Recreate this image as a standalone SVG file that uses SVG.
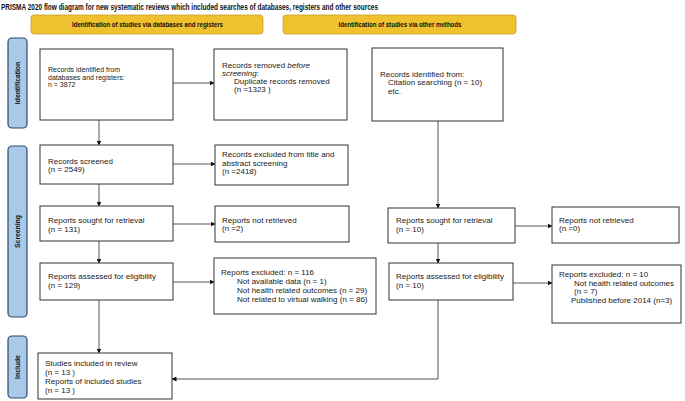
<svg xmlns="http://www.w3.org/2000/svg" width="685" height="401" viewBox="0 0 685 401">
<defs>
<style>
.bg{fill:#fff}
.hdr{fill:#EFC12F;stroke:#C9A02A;stroke-width:0.8}
.side{fill:#A9C9E8;stroke:#2E4A66;stroke-width:1.2}
.box{fill:#fff;stroke:#333;stroke-width:1}
.t{font-family:"Liberation Sans",Arial,sans-serif;font-size:8px;fill:#222}
.ts{font-family:"Liberation Sans",Arial,sans-serif;font-size:7px;fill:#222}
.h{font-family:"Liberation Sans",Arial,sans-serif;font-size:7.2px;font-weight:bold;fill:#111}
.sl{font-family:"Liberation Sans",Arial,sans-serif;font-size:6.8px;font-weight:bold;fill:#111}
.title{font-family:"Liberation Sans",Arial,sans-serif;font-size:9.4px;font-weight:bold;fill:#111}
.c{fill:none;stroke:#555;stroke-width:1}
</style>
<marker id="ah" markerWidth="5" markerHeight="5" refX="4.5" refY="2.5" orient="auto" markerUnits="userSpaceOnUse">
<path d="M0,0 L5,2.5 L0,5 Z" fill="#111"/>
</marker>
</defs>
<rect class="bg" x="0" y="0" width="685" height="401"/>
<text class="title" x="1" y="9.5" textLength="377" lengthAdjust="spacingAndGlyphs">PRISMA 2020 flow diagram for new systematic reviews which included searches of databases, registers and other sources</text>

<g id="header-left"><rect class="hdr" x="31" y="15" width="232" height="19" rx="3"/><text class="h" x="147.5" y="27" text-anchor="middle" textLength="151" lengthAdjust="spacingAndGlyphs">Identification of studies via databases and registers</text></g>
<g id="header-right"><rect class="hdr" x="283" y="15" width="233" height="19" rx="3"/><text class="h" x="400" y="27" text-anchor="middle" textLength="123" lengthAdjust="spacingAndGlyphs">Identification of studies via other methods</text></g>

<g id="side-identification"><rect class="side" x="8" y="38" width="19" height="90" rx="4"/><text class="sl" transform="translate(19.8,83) rotate(-90)" text-anchor="middle">Identification</text></g>
<g id="side-screening"><rect class="side" x="8" y="146" width="19" height="171" rx="4"/><text class="sl" transform="translate(19.8,231.5) rotate(-90)" text-anchor="middle">Screening</text></g>
<g id="side-include"><rect class="side" x="8" y="336" width="19" height="62" rx="4"/><text class="sl" transform="translate(19.8,367) rotate(-90)" text-anchor="middle">Include</text></g>

<g id="connectors">
<line class="c" x1="99" y1="120" x2="99" y2="145" marker-end="url(#ah)"/>
<line class="c" x1="99" y1="184" x2="99" y2="206" marker-end="url(#ah)"/>
<line class="c" x1="99" y1="241" x2="99" y2="263" marker-end="url(#ah)"/>
<line class="c" x1="99" y1="300" x2="99" y2="353" marker-end="url(#ah)"/>
<line class="c" x1="173" y1="83" x2="214" y2="83" marker-end="url(#ah)"/>
<line class="c" x1="173" y1="164" x2="215" y2="164" marker-end="url(#ah)"/>
<line class="c" x1="173" y1="224" x2="215" y2="224" marker-end="url(#ah)"/>
<line class="c" x1="173" y1="282" x2="214" y2="282" marker-end="url(#ah)"/>
<line class="c" x1="438" y1="121" x2="438" y2="208" marker-end="url(#ah)"/>
<line class="c" x1="438" y1="243" x2="438" y2="263" marker-end="url(#ah)"/>
<line class="c" x1="515" y1="226" x2="552" y2="226" marker-end="url(#ah)"/>
<line class="c" x1="513" y1="283" x2="552" y2="283" marker-end="url(#ah)"/>
<path class="c" d="M438,300 V379 H172" marker-end="url(#ah)"/>
</g>

<g id="records-identified"><rect class="box" x="40" y="49" width="133" height="71"/>
<text class="ts" x="48" y="72">Records identified from</text>
<text class="ts" x="48" y="79.5">databases and registers:</text>
<text class="ts" x="48" y="87">n = 3872</text></g>

<g id="records-removed"><rect class="box" x="214" y="49" width="133" height="71"/>
<text class="t" x="222" y="67.5">Records removed <tspan font-style="italic">before</tspan></text>
<text class="t" x="222" y="75.5"><tspan font-style="italic">screening</tspan>:</text>
<text class="t" x="234" y="83.5">Duplicate records removed</text>
<text class="t" x="234" y="91.5">(n =1323 )</text></g>

<g id="records-screened"><rect class="box" x="40" y="145" width="133" height="39"/>
<text class="t" x="48" y="163.5">Records screened</text>
<text class="t" x="48" y="172">(n = 2549)</text></g>

<g id="records-excluded"><rect class="box" x="215" y="145" width="133" height="40"/>
<text class="t" x="222" y="157">Records excluded from title and</text>
<text class="t" x="222" y="165.5">abstract screening</text>
<text class="t" x="222" y="174">(n =2418)</text></g>

<g id="reports-sought"><rect class="box" x="40" y="206" width="133" height="35"/>
<text class="t" x="48" y="223">Reports sought for retrieval</text>
<text class="t" x="48" y="231.5">(n = 131)</text></g>

<g id="reports-not-retrieved"><rect class="box" x="215" y="206" width="134" height="36"/>
<text class="t" x="222" y="222.5">Reports not retrieved</text>
<text class="t" x="222" y="231">(n =2)</text></g>

<g id="reports-assessed"><rect class="box" x="40" y="263" width="133" height="37"/>
<text class="t" x="48" y="279">Reports assessed for eligibility</text>
<text class="t" x="48" y="288">(n = 129)</text></g>

<g id="reports-excluded"><rect class="box" x="214" y="258" width="162" height="56"/>
<text class="t" x="221" y="274.5">Reports excluded: n = 116</text>
<text class="t" x="237" y="283.5">Not available data (n = 1)</text>
<text class="t" x="237" y="292.5">Not health related outcomes (n = 29)</text>
<text class="t" x="237" y="301.5">Not related to virtual walking (n = 86)</text></g>

<g id="studies-included"><rect class="box" x="38" y="353" width="134" height="46"/>
<text class="t" x="45" y="365.5">Studies included in review</text>
<text class="t" x="45" y="374.5">(n = 13 )</text>
<text class="t" x="45" y="383.5">Reports of included studies</text>
<text class="t" x="45" y="392.5">(n = 13 )</text></g>

<g id="other-identified"><rect class="box" x="372" y="48" width="131" height="73"/>
<text class="t" x="380" y="76.5">Records identified from:</text>
<text class="t" x="388" y="85">Citation searching (n = 10)</text>
<text class="t" x="388" y="93.5">etc.</text></g>

<g id="other-sought"><rect class="box" x="388" y="208" width="127" height="35"/>
<text class="t" x="396" y="223">Reports sought for retrieval</text>
<text class="t" x="396" y="231.5">(n = 10)</text></g>

<g id="other-not-retrieved"><rect class="box" x="552" y="207" width="127" height="36"/>
<text class="t" x="559" y="222.5">Reports not retrieved</text>
<text class="t" x="559" y="231">(n =0)</text></g>

<g id="other-assessed"><rect class="box" x="389" y="263" width="124" height="37"/>
<text class="t" x="396" y="279">Reports assessed for eligibility</text>
<text class="t" x="396" y="288">(n = 10)</text></g>

<g id="other-excluded"><rect class="box" x="552" y="265" width="129" height="58"/>
<text class="t" x="559" y="277">Reports excluded: n = 10</text>
<text class="t" x="574" y="285.5">Not health related outcomes</text>
<text class="t" x="574" y="294">(n = 7)</text>
<text class="t" x="571" y="302.5">Published before 2014 (n=3)</text></g>
</svg>
